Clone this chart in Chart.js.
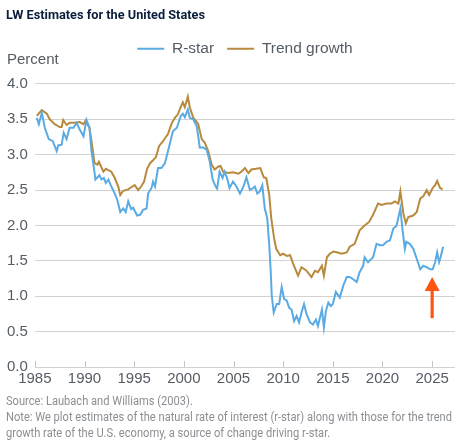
<!DOCTYPE html>
<html>
<head>
<meta charset="utf-8">
<script src="https://cdn.jsdelivr.net/npm/chart.js@4/dist/chart.umd.min.js"></script>
<style>
  body { margin: 0; background: #fff; }
  #wrap { position: relative; width: 469px; height: 445px; overflow: hidden; }
  #chart { position: absolute; left: 0; top: 0; }
  .txt { position: absolute; left: 6px; white-space: nowrap; transform-origin: 0 50%; }
  #title { top: 6px; font: bold 13px Roboto, sans-serif; color: #0b1e3b; line-height: 18px; }
  #unit { left: 7px; top: 50px; font: 15px "Liberation Sans", Arial, sans-serif; color: #555c63; line-height: 18px; }
  .note { font: 12px Roboto, sans-serif; color: #8b8f93; line-height: 16px; }
</style>
</head>
<body>
<div id="wrap">
  <canvas id="chart" width="469" height="445"></canvas>
  <div id="title" class="txt">LW Estimates for the United States</div>
  <div id="unit" class="txt">Percent</div>
  <div class="txt note" style="top:393px">Source: Laubach and Williams (2003).</div>
  <div class="txt note" id="longNote" style="top:409px">Note: We plot estimates of the natural rate of interest (r-star) along with those for the trend</div>
  <div class="txt note" style="top:425px">growth rate of the U.S. economy, a source of change driving r-star.</div>
</div>
<script>
// values (percent)
var rstarYears = [1985.2, 1985.4, 1985.7, 1986.0, 1986.4, 1986.8, 1987.2, 1987.35, 1987.7, 1987.9,
	1988.2, 1988.5, 1988.9, 1989.2, 1989.5, 1989.9, 1990.2, 1990.5, 1990.7, 1990.95,
	1991.1, 1991.5, 1991.7, 1991.95, 1992.15, 1992.4, 1992.7, 1993.05, 1993.3, 1993.6,
	1993.9, 1994.15, 1994.4, 1994.7, 1994.9, 1995.3, 1995.6, 1995.9, 1996.25, 1996.4,
	1996.75, 1996.9, 1997.1, 1997.4, 1997.75, 1998.1, 1998.4, 1998.9, 1999.3, 1999.7,
	1999.9, 2000.1, 2000.4, 2000.6, 2000.95, 2001.3, 2001.45, 2001.6, 2001.95, 2002.3,
	2002.6, 2002.9, 2003.2, 2003.35, 2003.6, 2003.9, 2004.1, 2004.35, 2004.6, 2004.95,
	2005.3, 2005.65, 2006.0, 2006.3, 2006.65, 2007.0, 2007.15, 2007.4, 2007.65, 2007.9,
	2008.15, 2008.4, 2008.6, 2008.75, 2008.85, 2009.05, 2009.35, 2009.6, 2009.85, 2010.1,
	2010.35, 2010.6, 2010.85, 2011.1, 2011.35, 2011.6, 2011.85, 2012.1, 2012.35, 2012.7,
	2013.0, 2013.3, 2013.5, 2013.9, 2014.1, 2014.3, 2014.55, 2014.8, 2015.0, 2015.3,
	2015.7, 2016.05, 2016.4, 2016.7, 2017.05, 2017.4, 2017.7, 2018.05, 2018.2, 2018.55,
	2019.05, 2019.4, 2019.75, 2020.05, 2020.4, 2020.75, 2021.1, 2021.4, 2021.8, 2022.0,
	2022.25, 2022.4, 2022.75, 2023.1, 2023.45, 2023.8, 2024.1, 2024.45, 2024.8, 2025.05,
	2025.3, 2025.5, 2025.7, 2025.85, 2026.1];
var rstarValues = [3.52, 3.43, 3.59, 3.38, 3.22, 3.19, 3.05, 3.13, 3.14, 3.31,
	3.22, 3.38, 3.38, 3.45, 3.36, 3.26, 3.49, 3.38, 3.05, 2.81,
	2.65, 2.71, 2.65, 2.67, 2.60, 2.65, 2.55, 2.45, 2.36, 2.19,
	2.24, 2.19, 2.34, 2.23, 2.25, 2.14, 2.15, 2.22, 2.24, 2.45,
	2.53, 2.62, 2.55, 2.81, 2.81, 2.88, 3.05, 3.33, 3.38, 3.55,
	3.58, 3.53, 3.64, 3.52, 3.50, 3.40, 3.26, 3.10, 3.10, 3.07,
	2.91, 2.65, 2.55, 2.52, 2.76, 2.67, 2.76, 2.67, 2.53, 2.62,
	2.55, 2.45, 2.55, 2.68, 2.50, 2.53, 2.55, 2.45, 2.48, 2.57,
	2.24, 2.10, 1.72, 1.34, 1.01, 0.77, 0.89, 0.89, 1.13, 0.96,
	0.94, 0.84, 0.81, 0.65, 0.72, 0.63, 0.77, 0.89, 0.75, 0.63,
	0.60, 0.67, 0.58, 0.81, 0.56, 0.79, 0.91, 0.86, 0.89, 1.06,
	0.98, 1.15, 1.27, 1.27, 1.24, 1.20, 1.34, 1.43, 1.55, 1.48,
	1.55, 1.74, 1.72, 1.72, 1.77, 1.79, 1.96, 1.99, 2.24, 1.96,
	1.67, 1.77, 1.74, 1.67, 1.53, 1.38, 1.43, 1.41, 1.38, 1.38,
	1.48, 1.62, 1.48, 1.55, 1.70];

var trendYears = [1985.2, 1985.7, 1986.2, 1986.5, 1987.0, 1987.5, 1987.7, 1987.85, 1988.2, 1988.5,
	1989.0, 1989.5, 1989.9, 1990.1, 1990.5, 1990.8, 1991.0, 1991.3, 1991.45, 1991.9,
	1992.15, 1992.7, 1993.05, 1993.4, 1993.6, 1993.9, 1994.4, 1994.7, 1995.05, 1995.4,
	1995.7, 1996.0, 1996.3, 1996.6, 1996.9, 1997.2, 1997.5, 1997.9, 1998.4, 1998.8,
	1999.1, 1999.4, 1999.7, 1999.9, 2000.1, 2000.4, 2000.6, 2000.95, 2001.2, 2001.45,
	2001.8, 2002.1, 2002.45, 2002.8, 2003.1, 2003.45, 2003.7, 2003.95, 2004.5, 2004.95,
	2005.5, 2005.8, 2006.15, 2006.5, 2006.8, 2007.3, 2007.7, 2008.05, 2008.3, 2008.6,
	2008.8, 2009.1, 2009.3, 2009.7, 2010.0, 2010.35, 2010.7, 2011.0, 2011.5, 2011.85,
	2012.35, 2012.85, 2013.2, 2013.5, 2013.9, 2014.1, 2014.4, 2014.7, 2015.05, 2015.4,
	2015.9, 2016.4, 2016.7, 2017.2, 2017.7, 2018.2, 2018.65, 2019.05, 2019.55, 2019.9,
	2020.4, 2020.9, 2021.25, 2021.6, 2021.8, 2022.1, 2022.35, 2022.6, 2023.1, 2023.45,
	2023.8, 2024.1, 2024.45, 2024.7, 2025.05, 2025.3, 2025.5, 2025.8, 2026.05];
var trendValues = [3.55, 3.63, 3.58, 3.50, 3.43, 3.39, 3.39, 3.49, 3.42, 3.45,
	3.45, 3.46, 3.43, 3.48, 3.38, 3.10, 2.88, 2.86, 2.90, 2.76,
	2.80, 2.76, 2.67, 2.55, 2.43, 2.49, 2.51, 2.54, 2.57, 2.50,
	2.55, 2.62, 2.80, 2.88, 2.92, 2.97, 3.12, 3.19, 3.29, 3.45,
	3.52, 3.57, 3.68, 3.74, 3.67, 3.82, 3.67, 3.52, 3.48, 3.43,
	3.22, 3.17, 3.05, 2.86, 2.79, 2.83, 2.84, 2.76, 2.74, 2.75,
	2.73, 2.76, 2.81, 2.74, 2.79, 2.80, 2.81, 2.68, 2.67, 2.43,
	2.10, 1.81, 1.67, 1.58, 1.60, 1.57, 1.58, 1.46, 1.29, 1.41,
	1.36, 1.27, 1.36, 1.34, 1.43, 1.29, 1.55, 1.60, 1.63, 1.62,
	1.60, 1.62, 1.70, 1.74, 1.93, 2.00, 2.05, 2.15, 2.31, 2.29,
	2.31, 2.31, 2.34, 2.31, 2.48, 2.17, 2.03, 2.12, 2.14, 2.19,
	2.38, 2.41, 2.50, 2.43, 2.53, 2.57, 2.63, 2.53, 2.51];

var seriesNames = ["R-star", "Trend growth"];
var yTicks = [0, 0.5, 1, 1.5, 2, 2.5, 3, 3.5, 4];
var xTicks = [1985, 1990, 1995, 2000, 2005, 2010, 2015, 2020, 2025];

// annotation arrow (year, from value, to value)
var arrowYear = 2025;
var arrowFrom = 0.69;
var arrowTo = 1.27;

function pairs(xs, ys) {
	return xs.map(function (x, i) { return { x: x, y: ys[i] }; });
}

var gray = '#555c63';
var tickFont = { family: '"Liberation Sans", Arial, sans-serif', size: 15 };
var legendFont = { family: '"Liberation Sans", Arial, sans-serif', size: 15.5 };

// push the plot down below the legend
var legendGap = {
	id: 'legendGap',
	beforeInit: function (chart) {
		var fit = chart.legend.fit;
		chart.legend.fit = function () {
			fit.call(this);
			this.height += 17.4;
		};
	}
};

// small tick marks pointing up from the baseline
var xTickMarks = {
	id: 'xTickMarks',
	afterDatasetsDraw: function (chart) {
		var ctx = chart.ctx, area = chart.chartArea, x = chart.scales.x;
		ctx.save();
		ctx.strokeStyle = '#c6c6c6';
		ctx.lineWidth = 1;
		x.ticks.forEach(function (t) {
			var px = Math.round(x.getPixelForValue(t.value)) + 0.5;
			ctx.beginPath();
			ctx.moveTo(px, area.bottom);
			ctx.lineTo(px, area.bottom - 6);
			ctx.stroke();
		});
		ctx.restore();
	}
};

var arrowMark = {
	id: 'arrowMark',
	afterDatasetsDraw: function (chart) {
		var ctx = chart.ctx, x = chart.scales.x, y = chart.scales.y;
		var px = x.getPixelForValue(arrowYear);
		var tip = y.getPixelForValue(arrowTo);
		var tail = y.getPixelForValue(arrowFrom);
		var headBase = tip + 14;
		ctx.save();
		ctx.fillStyle = '#ff5512';
		ctx.fillRect(px - 1.6, headBase - 1, 3.2, tail - headBase + 1);
		ctx.beginPath();
		ctx.moveTo(px, tip);
		ctx.lineTo(px + 7.5, headBase);
		ctx.lineTo(px - 7.5, headBase);
		ctx.closePath();
		ctx.fill();
		ctx.restore();
	}
};

var chartData = {
	datasets: [{
		label: seriesNames[0],
		data: pairs(rstarYears, rstarValues),
		borderColor: '#5aabe3',
		backgroundColor: '#5aabe3',
		borderWidth: 2,
		pointRadius: 0,
		tension: 0
	}, {
		label: seriesNames[1],
		data: pairs(trendYears, trendValues),
		borderColor: '#b88a3e',
		backgroundColor: '#b88a3e',
		borderWidth: 2,
		pointRadius: 0,
		tension: 0
	}]
};

var chartOptions = {
	responsive: false,
	animation: false,
	layout: {
		padding: { top: 28, left: 0, right: 14, bottom: 54 }
	},
	plugins: {
		legend: {
			position: 'top',
			fullSize: false,
			labels: {
				usePointStyle: true,
				pointStyle: 'line',
				pointStyleWidth: 27,
				padding: 13,
				color: gray,
				font: legendFont
			}
		},
		tooltip: { enabled: false }
	},
	scales: {
		x: {
			type: 'linear',
			min: 1985,
			max: 2027.3,
			afterBuildTicks: function (scale) {
				scale.ticks = xTicks.map(function (v) { return { value: v }; });
			},
			ticks: {
				color: gray,
				font: tickFont,
				padding: 3,
				maxRotation: 0,
				callback: function (v) { return String(v); }
			},
			grid: { display: false, drawTicks: false },
			border: { display: false }
		},
		y: {
			min: 0,
			max: 4,
			afterBuildTicks: function (scale) {
				scale.ticks = yTicks.map(function (v) { return { value: v }; });
			},
			ticks: {
				color: gray,
				font: tickFont,
				padding: 7,
				callback: function (v) { return v.toFixed(1); }
			},
			grid: { color: '#d2d2d2', lineWidth: 1, drawTicks: false },
			border: { display: false }
		}
	}
};

var chart = new Chart(document.getElementById('chart'), {
	type: 'line',
	data: chartData,
	options: chartOptions,
	plugins: [legendGap, xTickMarks, arrowMark]
});

// squeeze the condensed-looking texts to the reference widths
function squeeze(el, target) {
	var w = el.getBoundingClientRect().width;
	return target / w;
}
var title = document.getElementById('title');
title.style.transform = 'scaleX(' + squeeze(title, 199) + ')';
var k = squeeze(document.getElementById('longNote'), 446);
document.querySelectorAll('.note').forEach(function (el) {
	el.style.transform = 'scaleX(' + k + ')';
});
</script>
</body>
</html>
